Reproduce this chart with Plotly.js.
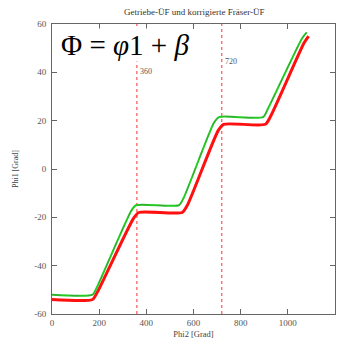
<!DOCTYPE html>
<html><head><meta charset="utf-8">
<script src="https://cdn.plot.ly/plotly-3.0.1.min.js"></script>
<style>html,body{margin:0;padding:0;background:#fff;}#chart{width:338px;height:342px;}</style>
</head><body><div id="chart"></div>
<script>
// Korrigierte Fräser-ÜF (red)
var redPhi2 = [0, 172, 192, 345, 368, 552, 574, 705, 728, 905, 928, 1068, 1088];
var redPhi1 = [-54, -54, -51, -20.5, -18, -18, -15, 16, 18.5, 18.5, 22, 52, 55];
// Getriebe-ÜF (green)
var greenPhi2 = [0, 172, 190, 335, 356, 538, 558, 686, 708, 895, 916, 1060, 1080];
var greenPhi1 = [-52, -52, -49, -17.5, -15, -15, -12, 19, 21.5, 21.5, 25, 54, 56.5];
var markerLines = [360, 720];
var markerLabels = ['360', '720'];
var markerLabelY = [40.5, 44.5];
var xTicks = [0, 200, 400, 600, 800, 1000, 1200];
var yTicks = [-60, -40, -20, 0, 20, 40, 60];

var traces = [
  {x: redPhi2, y: redPhi1, mode: 'lines', line: {color: '#ff1010', width: 3, shape: 'spline', smoothing: 0.6}, hoverinfo: 'none'},
  {x: greenPhi2, y: greenPhi1, mode: 'lines', line: {color: '#22cc22', width: 2, shape: 'spline', smoothing: 0.6}, hoverinfo: 'none'},
  {x: greenPhi2, y: greenPhi1, mode: 'lines', line: {color: '#557755', width: 1, dash: 'dash', shape: 'spline', smoothing: 0.6}, opacity: 0.5, hoverinfo: 'none'}
];

var shapes = markerLines.map(function (v) {
  return {type: 'line', xref: 'x', yref: 'paper', x0: v, x1: v, y0: 0, y1: 1,
          line: {color: '#ff3030', width: 1, dash: 'dot'}, layer: 'below'};
});

var serif = 'Liberation Serif, Times New Roman, serif';
var annotations = [{
  x: 0.03, y: 0.985, xref: 'paper', yref: 'paper', xanchor: 'left', yanchor: 'top',
  text: 'Φ = <i>φ</i>1 + <i>β</i>', showarrow: false, bgcolor: '#ffffff',
  font: {family: serif, size: 29, color: '#000'}, borderpad: 0
}];
markerLines.forEach(function (v, i) {
  annotations.push({x: v, y: markerLabelY[i], xref: 'x', yref: 'y', text: markerLabels[i], showarrow: false,
          xanchor: 'left', yanchor: 'middle', xshift: 1,
          font: {family: serif, size: 8, color: '#555555'}});
});

var axisCommon = {
  showgrid: false, zeroline: false, showline: true, linecolor: '#666', linewidth: 1,
  mirror: 'ticks', ticks: 'inside', ticklen: 5, tickcolor: '#666',
  tickfont: {family: serif, size: 9, color: '#555555'}
};

var layout = {
  width: 338, height: 342,
  margin: {l: 52, r: 3, t: 24, b: 28},
  paper_bgcolor: '#fff', plot_bgcolor: '#fff',
  showlegend: false,
  font: {family: serif, color: '#444444'},
  title: {text: 'Getriebe-ÜF und korrigierte Fräser-ÜF', x: 0.575, xanchor: 'center', y: 0.964, yanchor: 'middle',
          font: {family: serif, size: 9, color: '#333333'}},
  xaxis: Object.assign({}, axisCommon, {range: [0, 1200], tickvals: xTicks, ticktext: xTicks.map(String),
          title: {text: 'Phi2 [Grad]', font: {family: serif, size: 8.5, color: '#444444'}, standoff: 4}}),
  yaxis: Object.assign({}, axisCommon, {range: [-60, 60], tickvals: yTicks, ticktext: yTicks.map(String),
          ticklabelstandoff: 3,
          title: {text: 'Phi1 [Grad]', font: {family: serif, size: 8, color: '#444444'}, standoff: 14}}),
  shapes: shapes,
  annotations: annotations
};

Plotly.newPlot('chart', traces, layout, {displayModeBar: false, staticPlot: true});
</script></body></html>
